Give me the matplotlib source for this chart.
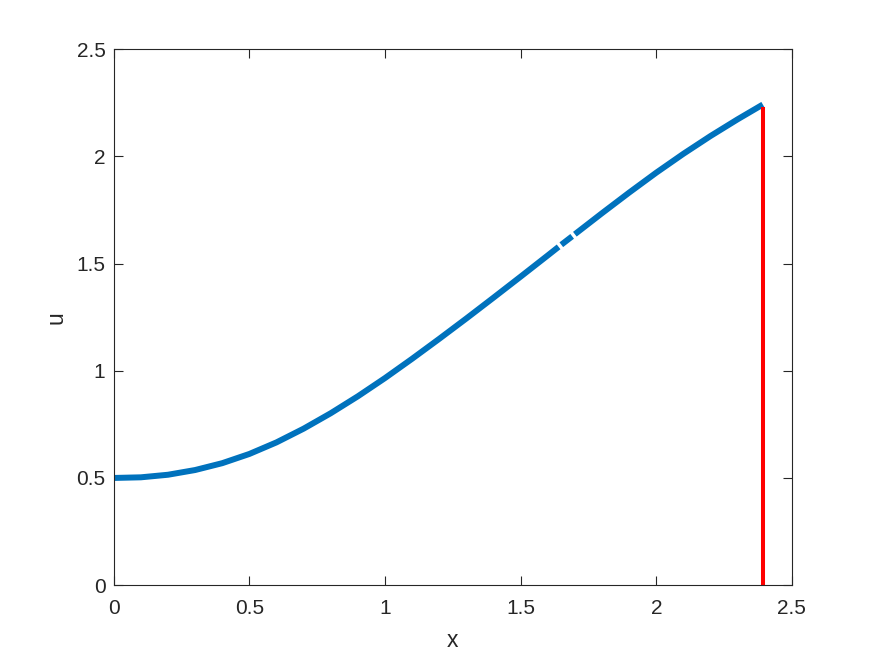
import matplotlib
matplotlib.use("Agg")
import matplotlib.pyplot as plt

# curve, split where the line has small gaps
x_seg1 = [0.0, 0.1, 0.2, 0.3, 0.4, 0.5, 0.6, 0.7, 0.8, 0.9, 1.0,
          1.1, 1.2, 1.3, 1.4, 1.5, 1.6, 1.640]
u_seg1 = [0.500, 0.503, 0.515, 0.537, 0.569, 0.612, 0.666, 0.730, 0.802, 0.881, 0.966,
          1.056, 1.149, 1.244, 1.341, 1.439, 1.538, 1.578]
x_seg2 = [1.650, 1.690]
u_seg2 = [1.588, 1.627]
x_seg3 = [1.700, 1.8, 1.9, 2.0, 2.1, 2.2, 2.3, 2.393]
u_seg3 = [1.637, 1.735, 1.831, 1.924, 2.012, 2.095, 2.173, 2.242]

x_front = 2.393
u_front = [0.0, 2.23]

plt.rcParams['font.family'] = ['Liberation Sans', 'DejaVu Sans']
txt = '#262626'

fig = plt.figure(figsize=(8.75, 6.56), dpi=100)
ax = fig.add_axes([0.13, 0.108, 0.775, 0.817])

for xs, us in [(x_seg1, u_seg1), (x_seg2, u_seg2), (x_seg3, u_seg3)]:
    ax.plot(xs, us, color='#0072BD', lw=4.3, solid_capstyle='butt')
ax.plot([x_front, x_front], u_front, color='#FF0000', lw=2.9, solid_capstyle='butt')

ax.set_xlim(0, 2.5)
ax.set_ylim(0, 2.5)
ax.set_xticks([0, 0.5, 1, 1.5, 2, 2.5])
ax.set_xticklabels(['0', '0.5', '1', '1.5', '2', '2.5'])
ax.set_yticks([0, 0.5, 1, 1.5, 2, 2.5])
ax.set_yticklabels(['0', '0.5', '1', '1.5', '2', '2.5'])
ax.tick_params(direction='in', length=6.5, width=0.8, colors=txt,
               labelsize=15, top=True, right=True)
ax.tick_params(axis='x', pad=10)
ax.tick_params(axis='y', pad=6)
for s in ax.spines.values():
    s.set_linewidth(0.8)
    s.set_color(txt)

ax.set_xlabel('x', fontsize=16.5, color=txt, labelpad=8)
ax.set_ylabel('u', fontsize=16.5, color=txt, labelpad=6)

fig.savefig('out.png', dpi=100)
